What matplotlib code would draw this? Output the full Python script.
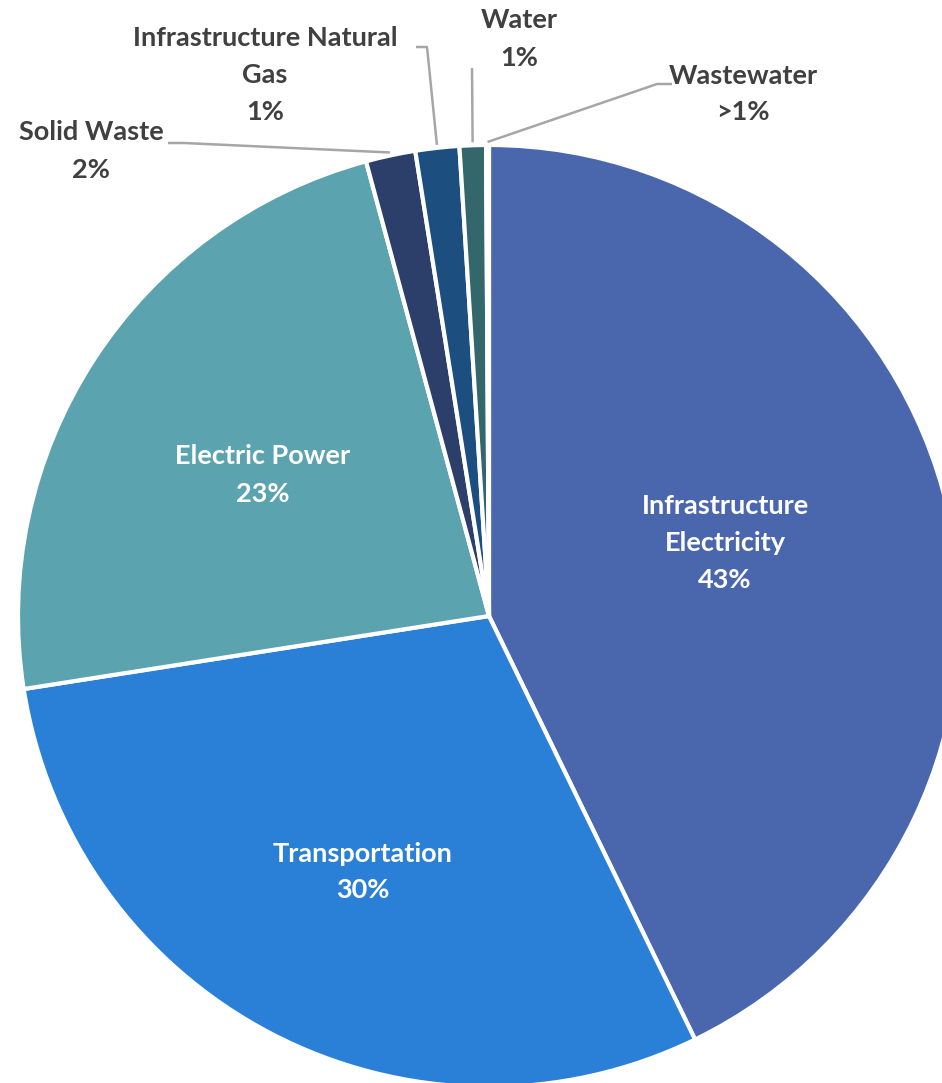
import numpy as np
import matplotlib
matplotlib.use("Agg")
import matplotlib.pyplot as plt

plt.rcParams['font.family'] = ['Lato', 'DejaVu Sans']

# shares (percent), clockwise from 12 o'clock
categories = ["Infrastructure\nElectricity", "Transportation", "Electric Power",
              "Solid Waste", "Infrastructure Natural\nGas", "Water", "Wastewater"]
shares = [42.75, 29.7, 23.25, 1.7, 1.5, 0.9, 0.1]
pct_labels = ["43%", "30%", "23%", "2%", "1%", "1%", ">1%"]
colors = ["#4A67AE", "#2A7FD6", "#5BA3AE", "#2C3E6A", "#1D4E80", "#33676B", "#2E5E8A"]

W, H = 942, 1083
fig = plt.figure(figsize=(W / 100, H / 100), dpi=100)
ax = fig.add_axes([0, 0, 1, 1])

cx, cy, R = 489, H - 616, 471
wedges, _ = ax.pie(shares, colors=colors, startangle=90, counterclock=False,
                   center=(cx, cy), radius=R,
                   wedgeprops=dict(edgecolor="white", linewidth=3))
ax.set_xlim(0, W)
ax.set_ylim(0, H)
ax.set_aspect("equal")
ax.axis("off")

lab_kw = dict(ha="center", va="center", fontsize=19.5, fontweight="bold",
              linespacing=1.65)

# labels inside the big slices (pixel positions, y from top)
inside = {0: (725, 543), 1: (363, 872), 2: (263, 475)}
for i, (x, y) in inside.items():
    ax.text(x, H - y, categories[i] + "\n" + pct_labels[i], color="white", **lab_kw)

# outside labels with leader lines: text position, elbow point(s)
outside = {
    3: ((91, 151), [(168, 143), (184, 143)]),
    4: ((265, 75), [(416, 47), (427, 47)]),
    5: ((519, 39), [(472, 68)]),
    6: ((743, 94), [(672, 84), (657, 84)]),
}
for i, ((tx, ty), elbow) in outside.items():
    w = wedges[i]
    mid = np.deg2rad((w.theta1 + w.theta2) / 2)
    ex = cx + (R + 3) * np.cos(mid)
    ey = cy + (R + 3) * np.sin(mid)
    xs = [p[0] for p in elbow] + [ex]
    ys = [H - p[1] for p in elbow] + [ey]
    ax.plot(xs, ys, color="#A6A6A6", lw=1.8, solid_capstyle="butt")
    ax.text(tx, H - ty, categories[i] + "\n" + pct_labels[i], color="#404040", **lab_kw)

fig.savefig("out.png", dpi=100)
